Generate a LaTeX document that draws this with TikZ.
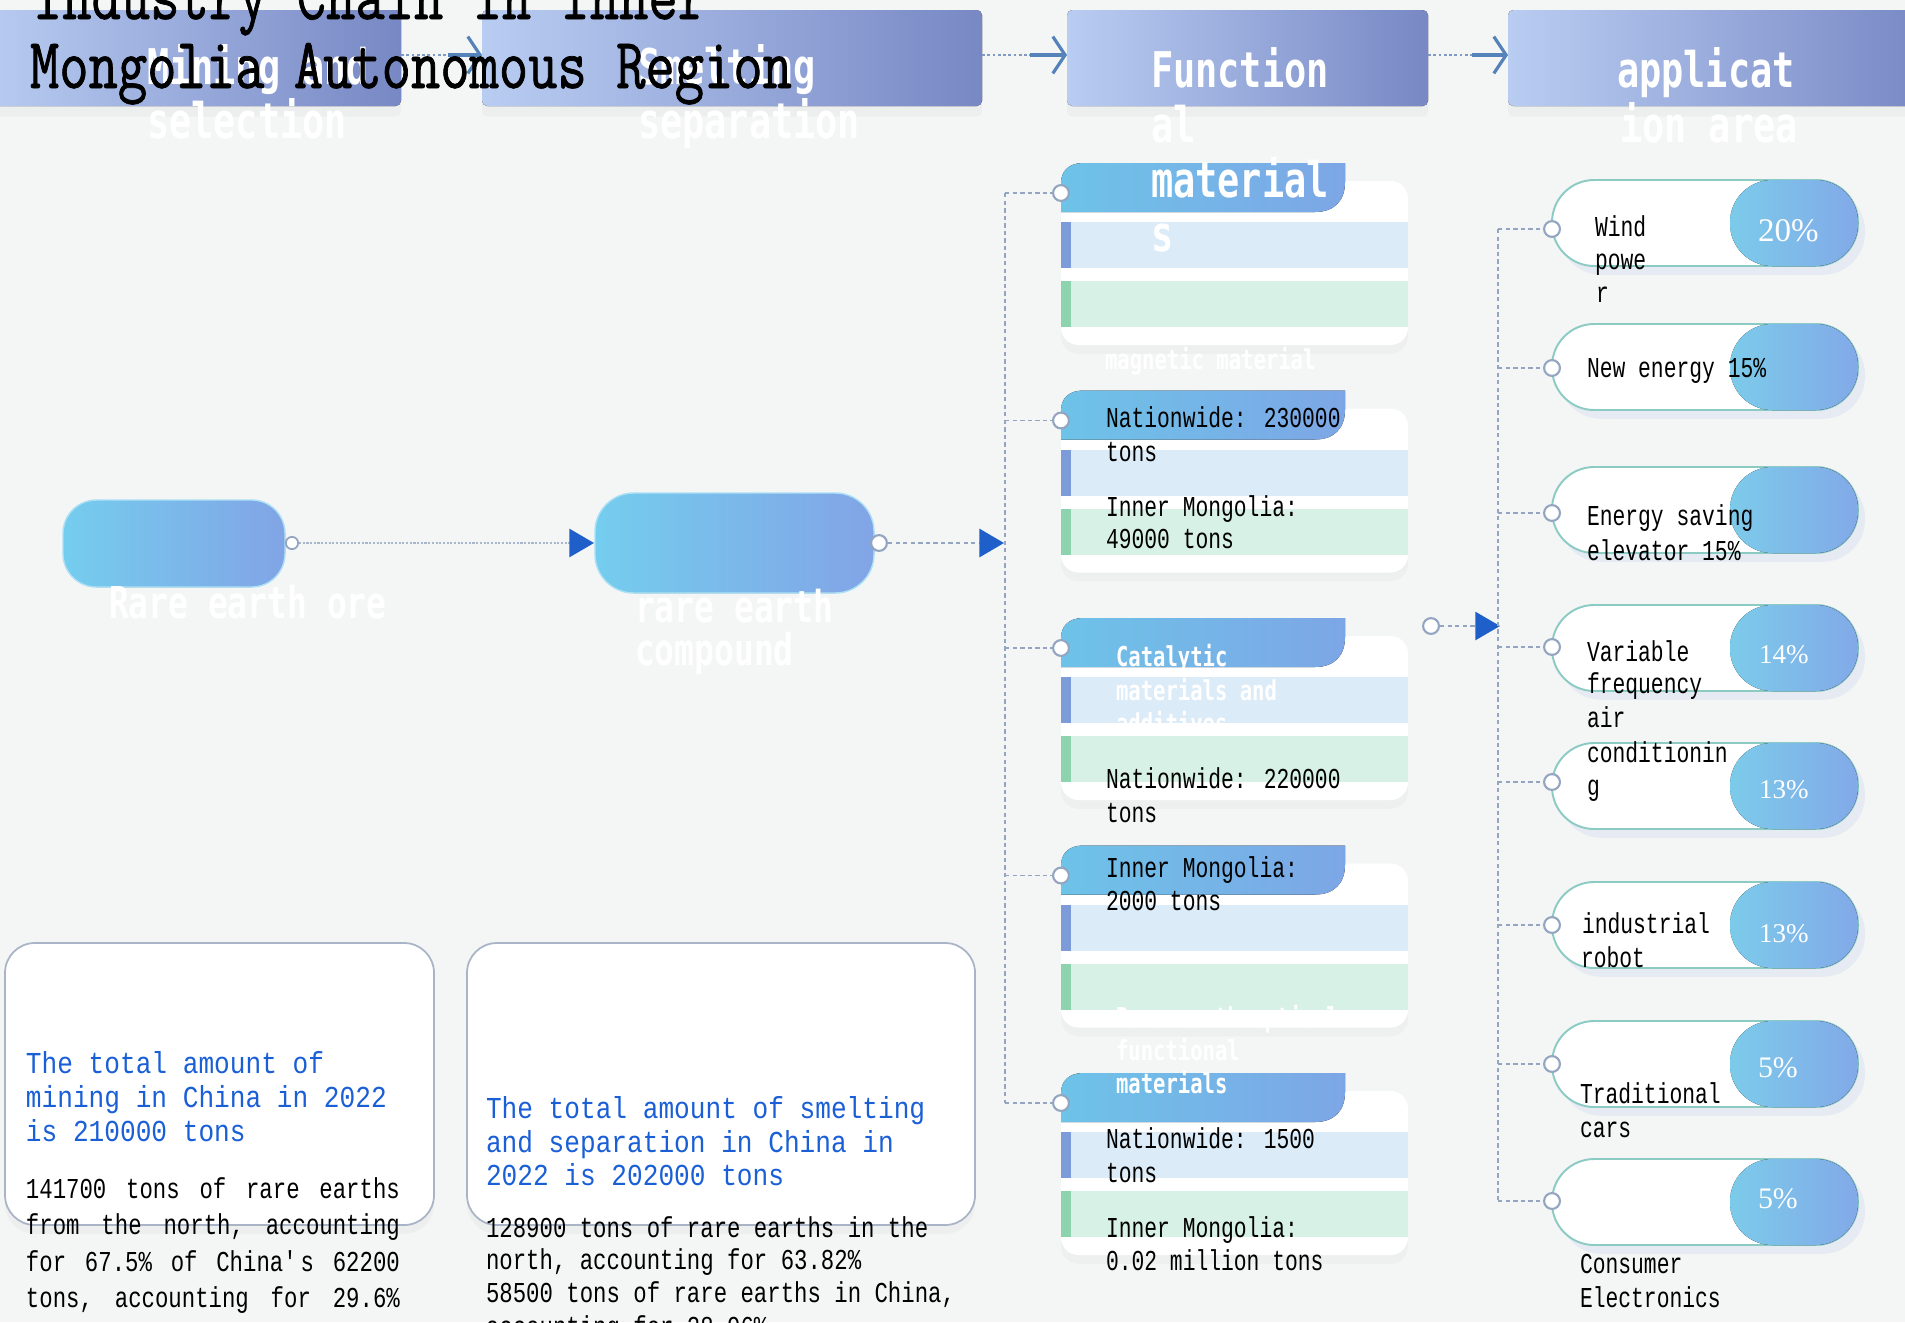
\documentclass[tikz,border=0pt]{standalone}
\usepackage{fontspec}
\usetikzlibrary{shadows,arrows.meta}
\newfontfamily\titlef[FakeStretch=0.79,FakeBold=1]{Latin Modern Mono}
\newfontfamily\bodyf[FakeStretch=0.74]{Liberation Mono}
\newfontfamily\boxf[FakeStretch=0.775]{Liberation Mono}
\newfontfamily\bluef[FakeStretch=0.86]{Liberation Mono}
\newfontfamily\wlabf[FakeStretch=0.75]{DejaVu Sans Mono}
\newfontfamily\pctf{Liberation Serif}
\definecolor{bgc}{HTML}{F4F5F5}
\definecolor{hdrL}{HTML}{B9CDF2}
\definecolor{hdrR}{HTML}{7788C4}
\definecolor{pillL}{HTML}{74CDEE}
\definecolor{pillR}{HTML}{82A4E6}
\definecolor{tabL}{HTML}{6DC3E8}
\definecolor{tabM}{HTML}{88D3F2}
\definecolor{tabR}{HTML}{7DA6E6}
\definecolor{stripeB}{HTML}{DCEBF8}
\definecolor{stripeG}{HTML}{D8F1E6}
\definecolor{barB}{HTML}{7E9BD9}
\definecolor{barG}{HTML}{8DD3AE}
\definecolor{dashc}{HTML}{93A5C0}
\definecolor{arrowc}{HTML}{1F5FC9}
\definecolor{pillline}{HTML}{8CCBC4}
\definecolor{pbL}{HTML}{7CCBEA}
\definecolor{pbR}{HTML}{82A9E8}
\definecolor{bluetxt}{HTML}{1A5FD6}
\definecolor{boxline}{HTML}{A9B5C6}
\definecolor{hdotc}{HTML}{7F9AC3}
\definecolor{harrc}{HTML}{5582B8}
\begin{document}
\begin{tikzpicture}[x=0.02cm,y=-0.02cm,
  lab/.style={anchor=base west, inner sep=0pt, outer sep=0pt},
  body/.style={lab, text=black, font=\bodyf\fontsize{16.4}{19}\selectfont},
  boxt/.style={lab, text=black, font=\boxf\fontsize{16.4}{19}\selectfont},
  bluet/.style={lab, text=bluetxt, font=\bluef\fontsize{17.3}{19}\selectfont},
  hdrt/.style={lab, text=white, font=\wlabf\bfseries\fontsize{28}{30}\selectfont},
  cardt/.style={lab, text=white, font=\wlabf\bfseries\fontsize{15.6}{17}\selectfont},
  pillt/.style={lab, text=white, font=\wlabf\bfseries\fontsize{25}{27}\selectfont},
  pctA/.style={lab, text=white, font=\pctf\fontsize{18.8}{20}\selectfont},
  pctB/.style={lab, text=white, font=\pctf\fontsize{15.4}{17}\selectfont},
  pctC/.style={lab, text=white, font=\pctf\fontsize{17}{18}\selectfont},
  titlet/.style={lab, text=black, font=\titlef\fontsize{41}{41}\selectfont},
  hdr/.style={left color=hdrL, right color=hdrR, rounded corners=3pt,
    drop shadow={opacity=0.06, shadow xshift=0pt, shadow yshift=-6pt}},
  hdots/.style={draw=hdotc, line width=1.6pt, dash pattern=on 1.6pt off 1.4pt},
  harrow/.style={draw=harrc, line width=1.8pt, -{Straight Barb[length=7pt,width=21pt]}},
  circ/.style={circle, draw=dashc, fill=white, line width=1.2pt, minimum size=9pt, inner sep=0pt},
  circs/.style={circle, draw=dashc, fill=white, line width=1pt, minimum size=7pt, inner sep=0pt},
  dashline/.style={draw=dashc, line width=1.1pt, dash pattern=on 2.5pt off 1.8pt},
  dotline/.style={draw=dashc!80, line width=1.3pt, dash pattern=on 1.2pt off 0.9pt},
  tri/.style={-{Triangle[length=14pt,width=16pt,color=arrowc]}},
  bigpill/.style={left color=pillL, right color=pillR, draw=pillL!60!white, line width=0.8pt},
  cardbg/.style={fill=white, rounded corners=10pt,
    drop shadow={opacity=0.05, shadow xshift=0pt, shadow yshift=-5pt}},
  tabfill/.style={left color=tabL, middle color=tabM, right color=tabR},
  pillwhite/.style={fill=white, draw=pillline, line width=1.1pt, rounded corners=24pt,
    drop shadow={fill=pbR, opacity=0.12, shadow xshift=4pt, shadow yshift=-5pt}},
  pillblue/.style={left color=pbL, right color=pbR, rounded corners=24pt},
  infobox/.style={fill=white, draw=boxline, line width=1pt, rounded corners=17pt,
    drop shadow={opacity=0.06, shadow xshift=0pt, shadow yshift=-5pt}}
]
\useasboundingbox (0,0) rectangle (1905,1322);
\clip (0,0) rectangle (1905,1322);
\fill[bgc] (0,0) rectangle (1905,1322);

% ---------- header boxes ----------
\fill[hdr] (-20,10) rectangle (401,106);
\fill[hdr] (482,10) rectangle (982,106);
\fill[hdr] (1067,10) rectangle (1428,106);
\fill[hdr] (1508,10) rectangle (1930,106);
\coordinate (h1e) at (401,55);
\coordinate (a1m) at (448,55);
\coordinate (h2w) at (482,55);
\coordinate (h2e) at (982,55);
\coordinate (a2m) at (1030,55);
\coordinate (h3w) at (1067,55);
\coordinate (h3e) at (1428,55);
\coordinate (a3m) at (1472,55);
\coordinate (h4w) at (1508,55);
\draw[hdots] (h1e) -- (a1m);
\draw[harrow] (a1m) -- (h2w);
\draw[hdots] (h2e) -- (a2m);
\draw[harrow] (a2m) -- (h3w);
\draw[hdots] (h3e) -- (a3m);
\draw[harrow] (a3m) -- (h4w);

% ---------- left process ----------
\fill[bigpill, rounded corners=19pt] (63,500) rectangle (285,587);
\fill[bigpill, rounded corners=22pt] (595,493) rectangle (874,593);
\node[circs] (co) at (292,543) {};
\coordinate (t1) at (594,543);
\draw[dotline, tri] (co) -- (t1);
\node[circ] (cc) at (879,543) {};
\coordinate (t2) at (1004,543);
\draw[dashline, line width=1.6pt, tri] (cc) -- (t2);
\node[pillt] (l1) at (109,618) {Rare earth ore};
\node[pillt] (l2a) at (635,622) {rare earth};
\node[pillt] (l2b) at (635,665) {compound};

% ---------- functional material cards ----------
\foreach \T/\i in {163/1,390.5/2,618/3,845.5/4,1073/5} {
  \fill[cardbg] (1061,\T+18) rectangle (1408,\T+182);
  \fill[stripeB] (1061,\T+59) rectangle (1408,\T+105);
  \fill[barB] (1061,\T+59) rectangle (1071,\T+105);
  \fill[stripeG] (1061,\T+118) rectangle (1408,\T+164);
  \fill[barG] (1061,\T+118) rectangle (1071,\T+164);
  \fill[tabfill] (1061,\T+49) -- (1061,\T+20) .. controls (1061,\T+8) and (1069,\T) .. (1083,\T)
     -- (1345,\T) -- (1345,\T+19) .. controls (1345,\T+38) and (1334,\T+49) .. (1315,\T+49) -- cycle;
  \coordinate (fv\i) at (1005,\T+30);
  \node[circ] (fc\i) at (1061,\T+30) {};
  \draw[dashline] (fv\i) -- (fc\i);
}
\draw[dashline] (fv1) -- (fv5);

\node[cardt] (m1) at (1105,369) {magnetic material};
\node[cardt] (m3a) at (1116,666) {Catalytic};
\node[cardt] (m3b) at (1116,700) {materials and};
\node[cardt] (m3c) at (1116,733) {additives};
\node[cardt] (m5a) at (1116,1027) {Rare earth optical};
\node[cardt] (m5b) at (1116,1060) {functional};
\node[cardt] (m5c) at (1116,1093) {materials};

\node[body] (n2a) at (1106,427) {Nationwide: 230000};
\node[body] (n2b) at (1106,461) {tons};
\node[body] (n2c) at (1106,516) {Inner Mongolia:};
\node[body] (n2d) at (1106,548) {49000 tons};
\node[body] (n3a) at (1106,788) {Nationwide: 220000};
\node[body] (n3b) at (1106,822) {tons};
\node[body] (n4a) at (1106,877) {Inner Mongolia:};
\node[body] (n4b) at (1106,910) {2000 tons};
\node[body] (n5a) at (1106,1148) {Nationwide: 1500};
\node[body] (n5b) at (1106,1182) {tons};
\node[body] (n5c) at (1106,1237) {Inner Mongolia:};
\node[body] (n5d) at (1106,1270) {0.02 million tons};

% ---------- application area ----------
\node[circ] (ca) at (1431,626) {};
\coordinate (ta) at (1500,626);
\draw[dashline, tri] (ca) -- (ta);
\foreach \cy/\cc/\i in {223/229/1,367/368/2,510/513/3,648/647/4,786/782/5,925/925/6,1064/1064/7,1202/1201/8} {
  \filldraw[pillwhite] (1552,\cy-43) rectangle (1858,\cy+43);
  \fill[pillblue] (1730,\cy-43) rectangle (1858,\cy+43);
  \coordinate (pv\i) at (1498,\cc);
  \node[circ] (pc\i) at (1552,\cc) {};
  \draw[dashline] (pv\i) -- (pc\i);
}
\draw[dashline] (pv1) -- (pv8);

\node[pctA] (p1) at (1758,241) {20\%};
\node[pctB] (p4) at (1759,663) {14\%};
\node[pctB] (p5) at (1759,798) {13\%};
\node[pctB] (p6) at (1759,942) {13\%};
\node[pctC] (p7) at (1758,1077) {5\%};
\node[pctC] (p8) at (1758,1208) {5\%};

\node[body] (a1a) at (1595,236) {Wind};
\node[body] (a1b) at (1595,269) {powe};
\node[body] (a1c) at (1596,302) {r};
\node[body] (a2) at (1587,377) {New energy 15\%};
\node[body] (a3a) at (1587,525) {Energy saving};
\node[body] (a3b) at (1587,560) {elevator 15\%};
\node[body] (a4a) at (1587,661) {Variable};
\node[body] (a4b) at (1587,693) {frequency};
\node[body] (a4c) at (1587,727) {air};
\node[body] (a4d) at (1587,762) {conditionin};
\node[body] (a4e) at (1587,795) {g};
\node[body] (a6a) at (1582,933) {industrial};
\node[body] (a6b) at (1581,967) {robot};
\node[body] (a7a) at (1580,1103) {Traditional};
\node[body] (a7b) at (1580,1137) {cars};
\node[body] (a8a) at (1580,1273) {Consumer};
\node[body] (a8b) at (1580,1307) {Electronics};

% ---------- bottom info boxes ----------
\filldraw[infobox] (5,943) rectangle (434,1225);
\filldraw[infobox] (467,943) rectangle (975,1225);
\node[bluet] (ba1) at (26,1073) {The total amount of};
\node[bluet] (ba2) at (26,1107) {mining in China in 2022};
\node[bluet] (ba3) at (26,1141) {is 210000 tons};
\node[boxt] (ba4) at (26,1198) {\makebox[212.8pt][l]{141700\hfill tons\hfill of\hfill rare\hfill earths}};
\node[boxt] (ba5) at (26,1234) {\makebox[212.8pt][l]{from\hfill the\hfill north,\hfill accounting}};
\node[boxt] (ba6) at (26,1271) {\makebox[212.8pt][l]{for\hfill 67.5\%\hfill of\hfill China\textquotesingle s\hfill 62200}};
\node[boxt] (ba7) at (26,1307) {\makebox[212.8pt][l]{tons,\hfill accounting\hfill for\hfill 29.6\%}};
\node[bluet] (bb1) at (486,1118) {The total amount of smelting};
\node[bluet] (bb2) at (486,1152) {and separation in China in};
\node[bluet] (bb3) at (486,1185) {2022 is 202000 tons};
\node[boxt] (bb4) at (486,1237) {128900 tons of rare earths in the};
\node[boxt] (bb5) at (486,1269) {north,  accounting for 63.82\%};
\node[boxt] (bb6) at (486,1302) {58500 tons of rare earths in China,};
\node[boxt] (bb7) at (486,1336) {accounting for 28.96\%};

% ---------- header labels ----------
\node[hdrt] (hl1a) at (147,84) {Mining and};
\node[hdrt] (hl1b) at (147,138) {selection};
\node[hdrt] (hl2a) at (638,84) {Smelting};
\node[hdrt] (hl2b) at (638,138) {separation};
\node[hdrt] (hl3a) at (1151,87) {Function};
\node[hdrt] (hl3b) at (1151,142) {al};
\node[hdrt] (hl3c) at (1151,197) {material};
\node[hdrt] (hl3d) at (1151,251) {s};
\node[hdrt] (hl4a) at (1617,87) {applicat};
\node[hdrt] (hl4b) at (1620,142) {ion area};

% ---------- title ----------
\node[titlet] (title1) at (33,19) {Industry Chain in Inner};
\node[titlet] (title2) at (30,88) {Mongolia Autonomous Region};
\end{tikzpicture}
\end{document}
